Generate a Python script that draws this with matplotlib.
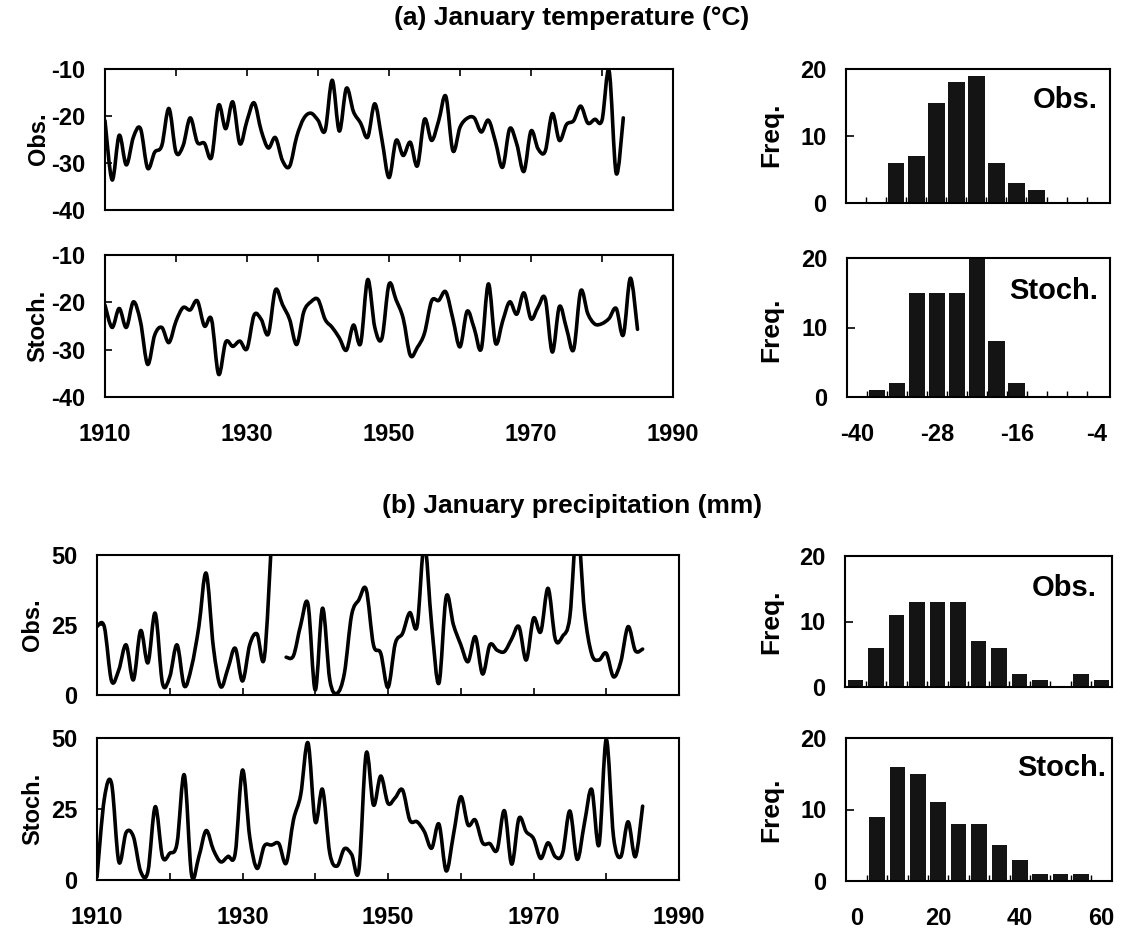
import numpy as np
import matplotlib
matplotlib.use("Agg")
import matplotlib.pyplot as plt
from matplotlib.path import Path
from matplotlib.patches import PathPatch
from matplotlib.ticker import FixedLocator, NullFormatter

plt.rcParams['font.family'] = ['Liberation Sans', 'DejaVu Sans']
plt.rcParams['font.weight'] = 'bold'
plt.rcParams['axes.linewidth'] = 1.5

# ---- January temperature (deg C), annual series ----
temp_obs = [-21.0, -33.6, -24.1, -30.4, -24.5, -22.7, -31.1, -27.7, -26.3, -18.4,
            -27.7, -26.3, -20.4, -25.6, -25.8, -28.8, -17.7, -22.7, -17.0, -25.9,
            -21.0, -17.2, -23.1, -26.8, -24.6, -29.5, -30.7, -24.4, -20.5, -19.4,
            -20.9, -23.1, -12.4, -23.2, -14.1, -19.1, -21.5, -24.5, -17.4, -25.0,
            -33.1, -25.2, -28.4, -25.6, -30.6, -20.7, -25.2, -21.0, -15.8, -27.4,
            -22.4, -20.5, -20.4, -23.4, -20.9, -25.5, -30.9, -22.7, -26.0, -31.8,
            -23.2, -27.0, -27.5, -19.5, -25.2, -21.8, -21.0, -17.9, -21.5, -20.7,
            -20.9, -10.4, -32.2, -20.4]
temp_sto = [-20.6, -25.3, -21.3, -25.3, -19.9, -24.1, -33.1, -26.9, -25.3, -28.5,
            -24.0, -21.1, -21.6, -19.7, -25.0, -23.6, -35.2, -28.4, -29.3, -28.2,
            -29.8, -22.7, -23.6, -26.7, -17.4, -20.5, -23.6, -28.9, -22.0, -19.9,
            -19.4, -23.6, -25.3, -27.5, -30.1, -24.8, -28.7, -15.2, -25.3, -27.6,
            -16.2, -19.5, -23.4, -31.2, -29.5, -26.5, -19.7, -19.6, -17.8, -23.5,
            -29.4, -21.9, -25.5, -29.8, -16.1, -28.6, -24.0, -19.9, -22.5, -18.0,
            -23.5, -21.0, -19.2, -30.5, -20.9, -25.5, -30.0, -17.6, -22.4, -24.6,
            -24.5, -23.4, -21.3, -26.9, -14.9, -25.7]

# ---- January precipitation (mm), annual series (1935 missing) ----
prec_obs = [24.5, 24.4, 5.0, 9.0, 17.9, 5.4, 23.0, 11.5, 29.2, 4.2,
            6.5, 17.9, 3.2, 10.1, 24.4, 43.5, 17.0, 3.0, 9.5, 16.7,
            5.0, 18.0, 21.8, 13.3, 56.0, np.nan, 13.5, 14.0, 25.0, 32.5,
            1.8, 31.0, 5.4, 0.6, 7.7, 28.6, 34.0, 37.7, 17.9, 14.9,
            2.7, 18.4, 22.0, 29.4, 24.6, 54.0, 25.0, 4.2, 35.1, 25.0,
            18.0, 11.9, 20.8, 7.5, 17.9, 16.0, 15.5, 20.0, 24.4, 12.5,
            27.4, 22.6, 38.1, 19.9, 21.0, 28.0, 61.0, 30.0, 14.6, 12.5,
            14.9, 6.5, 11.9, 24.4, 15.8, 16.4]
prec_sto = [1.0, 28.5, 34.0, 6.4, 16.7, 15.3, 3.0, 3.0, 25.8, 8.2,
            9.4, 12.9, 37.0, 1.8, 8.2, 17.4, 10.6, 6.4, 8.3, 9.4,
            38.7, 15.0, 4.1, 12.0, 12.3, 12.8, 5.9, 21.1, 30.0, 48.3,
            20.5, 31.9, 9.4, 4.9, 11.0, 9.0, 3.5, 44.6, 26.4, 36.6,
            27.0, 29.0, 31.7, 21.1, 20.5, 17.0, 11.2, 19.7, 3.2, 16.0,
            29.3, 19.4, 21.1, 13.1, 12.8, 10.6, 24.4, 5.6, 21.7, 17.0,
            14.6, 7.6, 13.1, 8.2, 9.4, 24.3, 7.3, 20.0, 31.9, 12.3,
            49.5, 15.2, 8.2, 20.5, 8.2, 26.0]

first_year = 1910

# ---- frequency histograms ----
temp_bins_obs = [-34, -31, -28, -25, -22, -19, -16, -13]
temp_freq_obs = [6, 7, 15, 18, 19, 6, 3, 2]
temp_bins_sto = [-37, -34, -31, -28, -25, -22, -19, -16]
temp_freq_sto = [1, 2, 15, 15, 15, 20, 8, 2]
prec_bins = [0, 5, 10, 15, 20, 25, 30, 35, 40, 45, 50, 55, 60]
prec_freq_obs = [1, 6, 11, 13, 13, 13, 7, 6, 2, 1, 0, 2, 1]
prec_freq_sto = [0, 9, 16, 15, 11, 8, 8, 5, 3, 1, 1, 1, 0]

year_ticks = [1910, 1920, 1930, 1940, 1950, 1960, 1970, 1980, 1990]
year_labels = ['1910', '', '1930', '', '1950', '', '1970', '', '1990']

W, H = 1123, 931
fig = plt.figure(figsize=(W / 100, H / 100), dpi=100)

FS = 17          # tick labels
ROW_FS = 17      # Obs. / Stoch. row labels
FREQ_FS = 19     # Freq. labels
TAG_FS = 21      # in-panel labels
TITLE_FS = 19
XPAD = 19


def box(x0, y0, x1, y1):
    """Axes from pixel box (left, top, right, bottom)."""
    return fig.add_axes([x0 / W, 1 - y1 / H, (x1 - x0) / W, (y1 - y0) / H])


def smooth_curve(ax, x, y, **kw):
    """Draw a Catmull-Rom style Bezier curve through the given points,
    breaking the curve at missing values."""
    x = np.asarray(x, float)
    y = np.asarray(y, float)
    ok = ~np.isnan(y)
    idx = np.flatnonzero(ok)
    runs = np.split(idx, np.flatnonzero(np.diff(idx) > 1) + 1)
    for run in runs:
        if len(run) < 2:
            continue
        px, py = x[run], y[run]
        n = len(px)
        verts = [(px[0], py[0])]
        codes = [Path.MOVETO]
        for i in range(n - 1):
            i0 = max(i - 1, 0)
            i3 = min(i + 2, n - 1)
            c1 = (px[i] + (px[i + 1] - px[i0]) / 6.0,
                  py[i] + (py[i + 1] - py[i0]) / 6.0)
            c2 = (px[i + 1] - (px[i3] - px[i]) / 6.0,
                  py[i + 1] - (py[i3] - py[i]) / 6.0)
            verts += [c1, c2, (px[i + 1], py[i + 1])]
            codes += [Path.CURVE4] * 3
        ax.add_patch(PathPatch(Path(verts, codes), facecolor='none', **kw))


def series_panel(ax, values, ylim, yticks, ylabels, ticks_top, show_x):
    yrs = first_year + np.arange(len(values))
    smooth_curve(ax, yrs, values, edgecolor='black', lw=2.6,
                 joinstyle='round', capstyle='round')
    ax.set_xlim(1910, 1990)
    ax.set_ylim(*ylim)
    ax.xaxis.set_major_locator(FixedLocator(year_ticks))
    if show_x:
        ax.set_xticklabels(year_labels)
    else:
        ax.xaxis.set_major_formatter(NullFormatter())
    ax.tick_params(axis='x', direction='in', length=5, width=1.2,
                   bottom=not ticks_top, top=ticks_top,
                   labelbottom=show_x, labeltop=False, labelsize=FS, pad=XPAD)
    ax.set_yticks(yticks)
    ax.set_yticklabels(ylabels)
    ax.tick_params(axis='y', direction='in', length=5, width=1.2,
                   labelsize=FS, pad=14)
    for lab in ax.get_xticklabels() + ax.get_yticklabels():
        lab.set_fontweight('bold')


def hist_panel(ax, centers, freqs, width, xlim, edges, xt, xtl, name, tx, ty):
    ax.bar(centers, freqs, width=width, color='#141414', edgecolor='none')
    ax.set_xlim(*xlim)
    ax.set_ylim(0, 20)
    ax.set_yticks([0, 10, 20])
    ax.tick_params(axis='y', direction='in', length=6, width=1.2,
                   labelsize=FS, pad=14)
    ax.xaxis.set_minor_locator(FixedLocator(edges))
    ax.tick_params(axis='x', which='minor', direction='in', length=4, width=1.0)
    ax.set_xticks(xt)
    if xtl is None:
        ax.set_xticklabels([''] * len(xt))
    else:
        ax.set_xticklabels(xtl)
    ax.tick_params(axis='x', which='major', length=0, labelsize=FS, pad=XPAD)
    for lab in ax.get_xticklabels() + ax.get_yticklabels():
        lab.set_fontweight('bold')
    ax.text(tx, ty, name, transform=ax.transAxes, ha='right', va='center',
            fontsize=TAG_FS, fontweight='bold')


# ---- (a) temperature ----
fig.text(572 / W, 1 - 18 / H, '(a) January temperature (\u00b0C)', ha='center',
         va='center', fontsize=TITLE_FS, fontweight='bold')
ax1 = box(105, 69, 673, 210)
series_panel(ax1, temp_obs, (-40, -10), [-40, -30, -20, -10],
             ['-40', '-30', '-20', '-10'], True, False)
ax2 = box(105, 255, 673, 397)
series_panel(ax2, temp_sto, (-40, -10), [-40, -30, -20, -10],
             ['-40', '-30', '-20', '-10'], True, True)

t_edges = list(np.arange(-38.5, -4.0, 3.0))
ax3 = box(846, 69, 1110, 203)
hist_panel(ax3, temp_bins_obs, temp_freq_obs, 2.5, (-41.5, -2), t_edges,
           [-40, -28, -16, -4], None, 'Obs.', 0.955, 0.77)
ax4 = box(847, 258, 1110, 397)
hist_panel(ax4, temp_bins_sto, temp_freq_sto, 2.5, (-41.5, -2), t_edges,
           [-40, -28, -16, -4], ['-40', '-28', '-16', '-4'], 'Stoch.', 0.954, 0.76)

# ---- (b) precipitation ----
fig.text(572 / W, 1 - 506 / H, '(b) January precipitation (mm)', ha='center',
         va='center', fontsize=TITLE_FS, fontweight='bold')
ax5 = box(97, 555, 679, 695)
series_panel(ax5, prec_obs, (0, 50), [0, 25, 50], ['0', '25', '50'], False, False)
ax6 = box(97, 738, 679, 880)
series_panel(ax6, prec_sto, (0, 50), [0, 25, 50], ['0', '25', '50'], False, True)

p_edges = list(np.arange(2.5, 60, 5.0))
ax7 = box(845, 556, 1112, 687)
hist_panel(ax7, prec_bins, prec_freq_obs, 3.8, (-2.6, 62.6), p_edges,
           [0, 20, 40, 60], None, 'Obs.', 0.944, 0.756)
ax8 = box(846, 738, 1112, 881)
hist_panel(ax8, prec_bins, prec_freq_sto, 3.8, (-2.6, 62.6), p_edges,
           [0, 20, 40, 60], ['0', '20', '40', '60'], 'Stoch.', 0.98, 0.79)

# ---- row labels ----
for x, y, s in [(38, 139, 'Obs.'), (38, 326, 'Stoch.'),
                (33, 625, 'Obs.'), (33, 809, 'Stoch.')]:
    fig.text(x / W, 1 - y / H, s, rotation=90, ha='center', va='center',
             fontsize=ROW_FS, fontweight='bold')
for x, y in [(771, 135), (771, 330), (771, 622), (771, 810)]:
    fig.text(x / W, 1 - y / H, 'Freq.', rotation=90, ha='center', va='center',
             fontsize=FREQ_FS, fontweight='bold')

fig.savefig('out.png', dpi=100, facecolor='white')
